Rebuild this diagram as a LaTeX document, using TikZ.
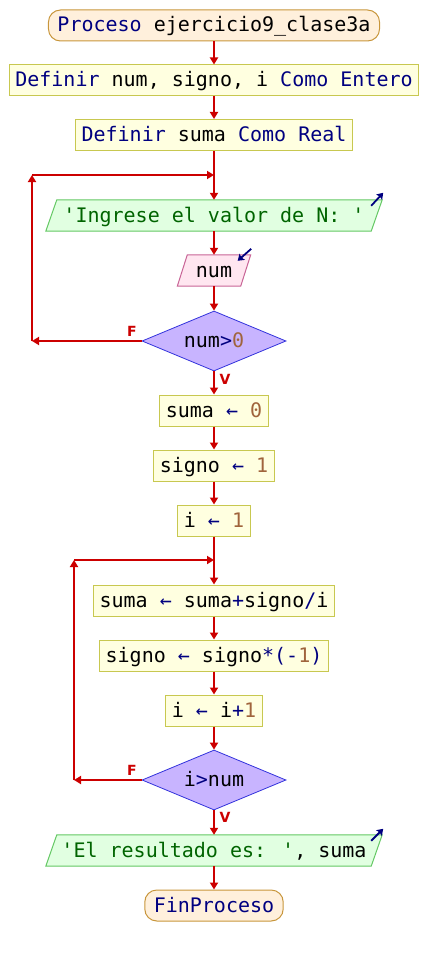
\documentclass[tikz,border=0pt]{standalone}
\usepackage{fontspec}
\newfontfamily\pmono{DejaVu Sans Mono}[Ligatures=TeXOff]
\newfontfamily\lblfont{DejaVu Sans}
\usetikzlibrary{shapes.geometric,arrows.meta,backgrounds,calc}
\definecolor{lnred}{HTML}{CC0000}
\definecolor{procfill}{HTML}{FFFFE0}
\definecolor{procline}{HTML}{C8C850}
\definecolor{termfill}{HTML}{FFF0DC}
\definecolor{termline}{HTML}{C8963C}
\definecolor{outfill}{HTML}{E1FFE1}
\definecolor{outline}{HTML}{64C864}
\definecolor{infill}{HTML}{FFE6F0}
\definecolor{inline}{HTML}{C86496}
\definecolor{decfill}{HTML}{C8B4FF}
\definecolor{decline}{HTML}{3232DC}
\definecolor{kw}{HTML}{000080}
\definecolor{numc}{HTML}{A0643C}
\definecolor{strc}{HTML}{006400}
\begin{document}
\begin{tikzpicture}[x=1pt,y=-1pt,
  base/.style={inner ysep=0pt, inner xsep=6pt, font=\pmono\fontsize{20}{24}\selectfont, text height=15pt, text depth=2pt, minimum height=31pt},
  proc/.style={base, draw=procline, fill=procfill, line width=1pt},
  term/.style={base, inner xsep=9pt, draw=termline, fill=termfill, line width=1pt, rounded corners=12pt},
  io/.style={base, inner xsep=0pt},
  outsty/.style={draw=outline, fill=outfill, line width=1pt},
  insty/.style={draw=inline, fill=infill, line width=1pt},
  dec/.style={base, shape=diamond, aspect=2.4, inner sep=0pt, minimum width=144pt, minimum height=60pt, draw=decline, fill=decfill, line width=0.8pt},
  flow/.style={draw=lnred, line width=1.8pt, -{Triangle[width=8pt,length=7pt]}},
  icon/.style={draw=kw, line width=1.8pt, -{Stealth[width=8pt,length=6pt,inset=1pt]}},
  lbl/.style={font=\lblfont\bfseries\fontsize{14}{15}\selectfont, text=lnred, inner sep=0pt}
]
\useasboundingbox (0,0) rectangle (428,955);
\node[term] (start) at (214,25.5) {{\color{kw}Proceso} ejercicio9\_clase3a};
\node[proc] (def1) at (214,80.5) {{\color{kw}Definir} num, signo, i {\color{kw}Como Entero}};
\node[proc] (def2) at (214,135) {{\color{kw}Definir} suma {\color{kw}Como Real}};
\node[io, minimum width=336pt] (out1) at (214,215.5) {\color{strc}'Ingrese el valor de N: '};
\node[io, minimum width=73pt] (in1) at (214,270.5) {num};
\node[dec] (d1) at (214,341) {num{\color{kw}>}{\color{numc}0}};
\node[proc] (a1) at (214,410.5) {suma {\color{kw}←} {\color{numc}0}};
\node[proc] (a2) at (214,465.5) {signo {\color{kw}←} {\color{numc}1}};
\node[proc] (a3) at (214,520.5) {i {\color{kw}←} {\color{numc}1}};
\node[proc] (b1) at (214,600.5) {suma {\color{kw}←} suma{\color{kw}+}signo{\color{kw}/}i};
\node[proc] (b2) at (214,655.5) {signo {\color{kw}←} signo{\color{kw}*(-}{\color{numc}1}{\color{kw})}};
\node[proc] (b3) at (214,710.5) {i {\color{kw}←} i{\color{kw}+}{\color{numc}1}};
\node[dec] (d2) at (214,780) {i{\color{kw}>}num};
\node[io, minimum width=336pt] (out2) at (214,850.5) {{\color{strc}'El resultado es: '}, suma};
\node[term] (fin) at (214,905.5) {{\color{kw}FinProceso}};
\begin{pgfonlayer}{background}
\draw[outsty] ($(out1.north west)+(11,0)$) -- (out1.north east) -- ($(out1.south east)+(-11,0)$) -- (out1.south west) -- cycle;
\draw[insty] ($(in1.north west)+(10,0)$) -- (in1.north east) -- ($(in1.south east)+(-10,0)$) -- (in1.south west) -- cycle;
\draw[outsty] ($(out2.north west)+(11,0)$) -- (out2.north east) -- ($(out2.south east)+(-11,0)$) -- (out2.south west) -- cycle;
\end{pgfonlayer}
\draw[icon] ($(out1.north east)+(-11,6)$) -- ($(out1.north east)+(1,-7)$);
\draw[icon] ($(in1.north east)+(0.5,-6)$) -- ($(in1.north east)+(-13,6)$);
\draw[icon] ($(out2.north east)+(-11,6)$) -- ($(out2.north east)+(1,-6)$);
\coordinate (l1b) at (32,341);
\coordinate (l1t) at (32,175);
\coordinate (j1) at (214,175);
\coordinate (l2b) at (74,780);
\coordinate (l2t) at (74,560);
\coordinate (j2) at (214,560);
\draw[flow] (start) -- (def1);
\draw[flow] (def1) -- (def2);
\draw[flow] (def2) -- (out1);
\draw[flow] (out1) -- (in1);
\draw[flow] (in1) -- (d1);
\draw[flow] (d1.west) -- (l1b);
\draw[flow] (l1b) -- (l1t);
\draw[flow] (l1t) -- (j1);
\draw[flow] (d1) -- (a1);
\draw[flow] (a1) -- (a2);
\draw[flow] (a2) -- (a3);
\draw[flow] (a3) -- (b1);
\draw[flow] (b1) -- (b2);
\draw[flow] (b2) -- (b3);
\draw[flow] (b3) -- (d2);
\draw[flow] (d2.west) -- (l2b);
\draw[flow] (l2b) -- (l2t);
\draw[flow] (l2t) -- (j2);
\draw[flow] (d2) -- (out2);
\draw[flow] (out2) -- (fin);
\node[lbl] (f1) at (132,331) {F};
\node[lbl] (v1) at (225,379) {V};
\node[lbl] (f2) at (132,770) {F};
\node[lbl] (v2) at (225,817) {V};
\end{tikzpicture}
\end{document}
